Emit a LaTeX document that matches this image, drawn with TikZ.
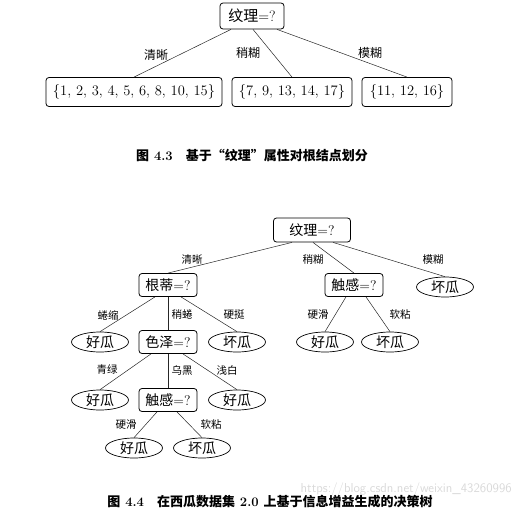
\documentclass[tikz,border=0pt]{standalone}
\usepackage{fontspec}
\usetikzlibrary{shapes.geometric}
\newfontfamily\cjk{Noto Sans CJK SC}
\newcommand{\zh}[1]{{\cjk #1}}

\begin{document}
\begin{tikzpicture}[
  x=1pt, y=-1pt,
  box/.style={draw, rounded corners=3pt, line width=0.8pt, inner sep=0pt,
              minimum width=58pt, minimum height=23pt,
              font=\fontsize{14}{14}\selectfont},
  leaf/.style={draw, ellipse, line width=0.7pt, inner sep=0pt,
               minimum width=57pt, minimum height=20pt,
               font=\fontsize{14}{14}\selectfont},
  e/.style={line width=0.5pt, black!85},
  lbl/.style={font=\fontsize{10.5}{10.5}\selectfont, inner sep=1pt},
  figcap/.style={font=\fontsize{13}{13}\selectfont\bfseries, inner sep=0pt}]

\useasboundingbox (0,0) rectangle (522,514);

% figure 4.3: split of the root on the first attribute
\node[box, minimum width=64pt, minimum height=26pt,
      font=\fontsize{15}{15}\selectfont] (top) at (252,16) {\zh{纹理}=?};
\node[box, minimum width=176pt, minimum height=29pt,
      font=\fontsize{14.5}{14.5}\selectfont] (setA) at (134,92)
      {\{1, 2, 3, 4, 5, 6, 8, 10, 15\}};
\node[box, minimum width=120pt, minimum height=29pt,
      font=\fontsize{14.5}{14.5}\selectfont] (setB) at (292,92)
      {\{7, 9, 13, 14, 17\}};
\node[box, minimum width=90pt, minimum height=29pt,
      font=\fontsize{14.5}{14.5}\selectfont] (setC) at (407,92)
      {\{11, 12, 16\}};

\draw[e] ([xshift=-21pt]top.south) -- (setA.north);
\draw[e] ([xshift=1pt]top.south) -- (setB.north);
\draw[e] ([xshift=25pt]top.south) -- (setC.north);

\node[lbl, font=\fontsize{12}{12}\selectfont] (tA) at (156,55) {\zh{清晰}};
\node[lbl, font=\fontsize{12}{12}\selectfont] (tB) at (248,53) {\zh{稍糊}};
\node[lbl, font=\fontsize{12}{12}\selectfont] (tC) at (370,53) {\zh{模糊}};

\node[figcap] (cap3) at (252,155) {\zh{图} 4.3\quad \zh{基于“纹理”属性对根结点划分}};

% figure 4.4: the whole tree
\node[box, minimum width=77pt, minimum height=24pt] (root) at (312,230) {\zh{纹理}=?};

\node[box] (gendi) at (168,285) {\zh{根蒂}=?};
\node[box] (chugan) at (354,285) {\zh{触感}=?};
\node[leaf] (bad1) at (445,287) {\zh{坏瓜}};

\node[leaf] (good1) at (100,342) {\zh{好瓜}};
\node[box] (seze) at (168,342) {\zh{色泽}=?};
\node[leaf] (bad2) at (237,342) {\zh{坏瓜}};
\node[leaf] (good2) at (325,342) {\zh{好瓜}};
\node[leaf] (bad3) at (390,342) {\zh{坏瓜}};

\node[leaf] (good3) at (100,400) {\zh{好瓜}};
\node[box] (chugan2) at (168,400) {\zh{触感}=?};
\node[leaf] (good4) at (237,400) {\zh{好瓜}};

\node[leaf] (good5) at (134,448) {\zh{好瓜}};
\node[leaf] (bad4) at (202,448) {\zh{坏瓜}};

\draw[e] ([xshift=-20pt]root.south) -- (gendi.north);
\draw[e] ([xshift=1pt]root.south) -- (chugan.north);
\draw[e] ([xshift=21pt]root.south) -- (bad1.north);

\draw[e] ([xshift=-13pt]gendi.south) -- (good1.north);
\draw[e] (gendi.south) -- (seze.north);
\draw[e] ([xshift=13pt]gendi.south) -- (bad2.north);

\draw[e] ([xshift=-8pt]chugan.south) -- (good2.north);
\draw[e] ([xshift=12pt]chugan.south) -- (bad3.north);

\draw[e] ([xshift=-17pt]seze.south) -- (good3.north);
\draw[e] (seze.south) -- (chugan2.north);
\draw[e] ([xshift=15pt]seze.south) -- (good4.north);

\draw[e] ([xshift=-11pt]chugan2.south) -- (good5.north);
\draw[e] ([xshift=9pt]chugan2.south) -- (bad4.north);

\node[lbl] (l1) at (192,260) {\zh{清晰}};
\node[lbl] (l2) at (313,260) {\zh{稍糊}};
\node[lbl] (l3) at (433,260) {\zh{模糊}};
\node[lbl] (l4) at (108,315) {\zh{蜷缩}};
\node[lbl] (l5) at (182,315) {\zh{稍蜷}};
\node[lbl] (l6) at (234,315) {\zh{硬挺}};
\node[lbl] (l7) at (318,315) {\zh{硬滑}};
\node[lbl] (l8) at (400,315) {\zh{软粘}};
\node[lbl] (l9) at (107,370) {\zh{青绿}};
\node[lbl] (l10) at (182,370) {\zh{乌黑}};
\node[lbl] (l11) at (227,370) {\zh{浅白}};
\node[lbl] (l12) at (126,425) {\zh{硬滑}};
\node[lbl] (l13) at (211,425) {\zh{软粘}};

\node[font=\fontsize{13}{13}\sffamily\selectfont, text=black!15, anchor=east,
      inner sep=0pt] (mark) at (512,489) {https://blog.csdn.net/weixin\_43260996};
\node[figcap] (cap4) at (270,502)
      {\zh{图} 4.4\quad \zh{在西瓜数据集} 2.0 \zh{上基于信息增益生成的决策树}};

\end{tikzpicture}
\end{document}
